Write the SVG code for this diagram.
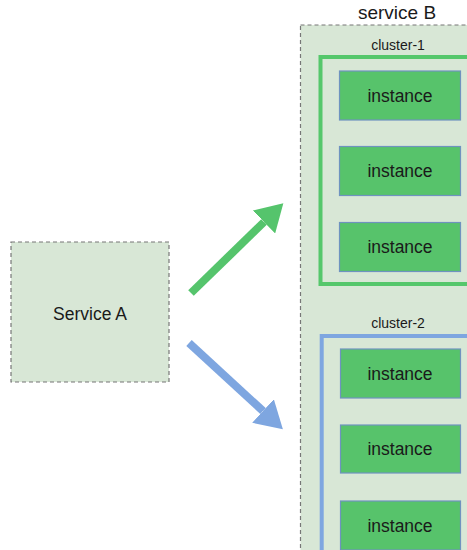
<svg xmlns="http://www.w3.org/2000/svg" width="467" height="550" viewBox="0 0 467 550">
<defs>
<style>
text{font-family:"Liberation Sans",Arial,sans-serif;fill:#1a1a1a;text-anchor:middle}
.svc{fill:#d8e7d6;stroke:#777;stroke-width:1.2;stroke-dasharray:4 3}
.inst{fill:#57c36b;stroke:#6f93bf;stroke-width:1.2}
.inst-t{font-size:17.5px}
.lbl{font-size:14px}
</style>
<marker id="hg" markerUnits="userSpaceOnUse" markerWidth="28" markerHeight="32" refX="0" refY="16" orient="auto"><path d="M0,0 L27,16 L0,32 z" fill="#55c46c"/></marker>
<marker id="hb" markerUnits="userSpaceOnUse" markerWidth="28" markerHeight="32" refX="0" refY="16" orient="auto"><path d="M0,0 L27,16 L0,32 z" fill="#7ea6e0"/></marker>
</defs>
<rect width="467" height="550" fill="#ffffff"/>
<g id="serviceB">
<rect class="svc" x="300.5" y="25" width="180" height="540" fill="#dbe9da"/>
<text x="397" y="19" style="font-size:19px">service B</text>
</g>
<g id="cluster1">
<rect x="320.5" y="57" width="160" height="227" fill="none" stroke="#55c76b" stroke-width="4"/>
<text class="lbl" x="398" y="50">cluster-1</text>
</g>
<g id="c1i1"><rect class="inst" x="339.5" y="71" width="121" height="49"/><text class="inst-t" x="400" y="101.5">instance</text></g>
<g id="c1i2"><rect class="inst" x="339.5" y="146.5" width="121" height="49"/><text class="inst-t" x="400" y="177">instance</text></g>
<g id="c1i3"><rect class="inst" x="339.5" y="222.5" width="121" height="49"/><text class="inst-t" x="400" y="253">instance</text></g>
<g id="cluster2">
<rect x="321.7" y="336" width="160" height="230" fill="none" stroke="#7ea6e0" stroke-width="4"/>
<text class="lbl" x="398" y="328">cluster-2</text>
</g>
<g id="c2i1"><rect class="inst" x="340.5" y="349" width="120" height="49"/><text class="inst-t" x="400" y="379.5">instance</text></g>
<g id="c2i2"><rect class="inst" x="340.5" y="425" width="120" height="48"/><text class="inst-t" x="400" y="455">instance</text></g>
<g id="c2i3"><rect class="inst" x="340.5" y="501" width="120" height="49"/><text class="inst-t" x="400" y="531.5">instance</text></g>
<g id="serviceA">
<rect class="svc" x="11" y="242" width="158" height="140"/>
<text x="90" y="320" style="font-size:17.5px">Service A</text>
</g>
<g id="connectors">
<line x1="191" y1="293" x2="264" y2="222" stroke="#55c46c" stroke-width="8" marker-end="url(#hg)"/>
<line x1="189" y1="343" x2="263" y2="411" stroke="#7ea6e0" stroke-width="8" marker-end="url(#hb)"/>
</g>
</svg>
